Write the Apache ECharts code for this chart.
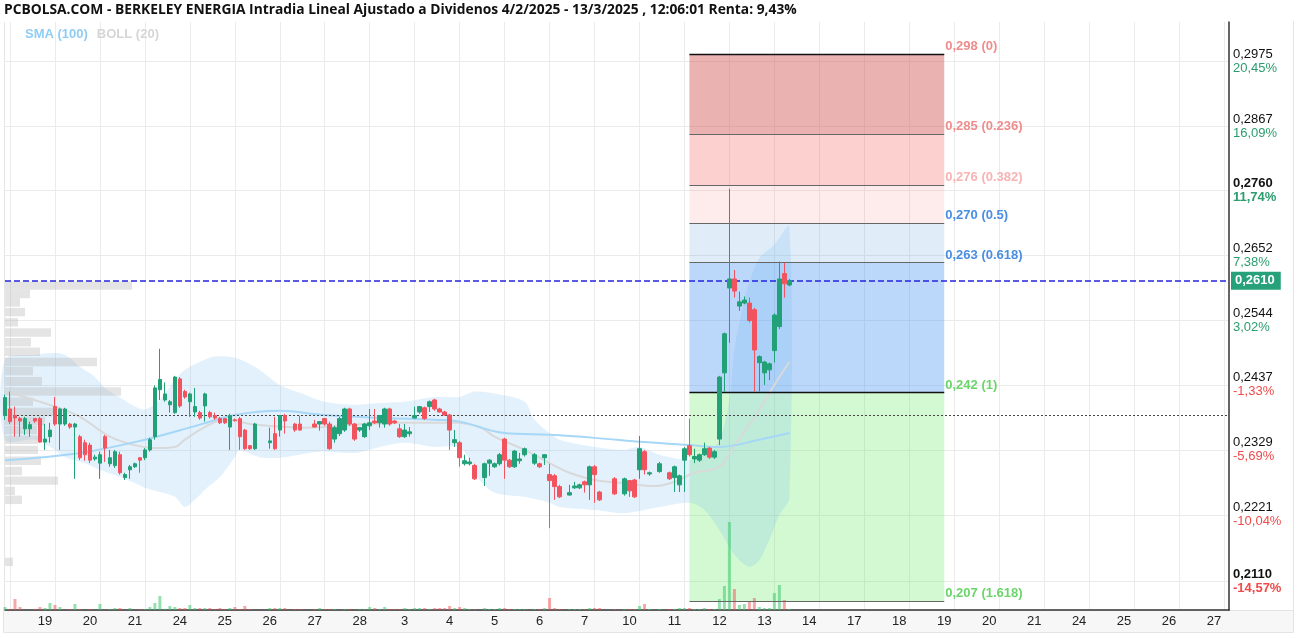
<!DOCTYPE html>
<html>
<head>
<meta charset="utf-8">
<title>Berkeley Energia intradía</title>
<script src="https://cdn.jsdelivr.net/npm/echarts@6/dist/echarts.min.js"></script>
<style>
  html, body { margin: 0; padding: 0; background: #fff; }
  #chart { width: 1298px; height: 638px; }
</style>
</head>
<body>
<div id="chart"></div>
<script>
// --- datos ---
const titleText = 'PCBOLSA.COM - BERKELEY ENERGIA Intradia Lineal Ajustado a Dividenos 4/2/2025 - 13/3/2025 , 12:06:01 Renta: 9,43%';
const dayLabels = ['18', '19', '20', '21', '24', '25', '26', '27', '28', '3', '4', '5', '6', '7', '10', '11', '12', '13',
  '14', '17', '18', '19', '20', '21', '24', '25', '26', '27'];
const barsPerDay = 9;
const totalSlots = 246;

const yTicks = [0.2975, 0.2867, 0.2760, 0.2652, 0.2544, 0.2437, 0.2329, 0.2221, 0.2110];
const yLabels = ['0,2975', '0,2867', '0,2760', '0,2652', '0,2544', '0,2437', '0,2329', '0,2221', '0,2110'];
const yPct = ['20,45%', '16,09%', '11,74%', '7,38%', '3,02%', '-1,33%', '-5,69%', '-10,04%', '-14,57%'];

const lastPrice = 0.2610;
const lastLabel = '0,2610';
const refLine = 0.2387;

// velas horarias [apertura, cierre, minimo, maximo], null = sin cotizacion
const ohlc = [
  [0.2386, 0.2416, 0.2379, 0.2421],
  // 18
  [0.2397, 0.2376, 0.2372, 0.2426], [0.2386, 0.2382, 0.2351, 0.2401], [0.2381, 0.2377, 0.2351, 0.2384],
  [0.2364, 0.2381, 0.2354, 0.2384], [0.2364, 0.2371, 0.2351, 0.2376], [0.2381, 0.2377, 0.2374, 0.2382],
  [0.2381, 0.2342, 0.2341, 0.2384], [0.2342, 0.2347, 0.2329, 0.2372], [0.2351, 0.2362, 0.2341, 0.2374],
  // 19
  [0.2401, 0.2372, 0.2369, 0.2417], [0.2372, 0.2397, 0.2329, 0.2399], [0.2372, 0.2397, 0.2369, 0.2399],
  [0.2372, 0.2367, 0.2364, 0.2374], [0.2367, 0.2372, 0.2281, 0.2374], [0.2351, 0.2316, 0.2312, 0.2354],
  [0.2341, 0.2321, 0.2311, 0.2346], [0.2337, 0.2312, 0.2307, 0.2341], [0.2314, 0.2317, 0.2311, 0.2321],
  // 20
  [0.2307, 0.2321, 0.2281, 0.2326], [0.2351, 0.2332, 0.2309, 0.2354], [0.2306, 0.2316, 0.2301, 0.2329],
  [0.2303, 0.2326, 0.2299, 0.2329], [0.2321, 0.2291, 0.2288, 0.2326], [0.2283, 0.2288, 0.2279, 0.2291],
  [0.2296, 0.2301, 0.2281, 0.2304], [0.2301, 0.2306, 0.2299, 0.2308], [0.2316, 0.2312, 0.2291, 0.2317],
  // 21
  [0.2316, 0.2329, 0.2312, 0.2332], [0.2329, 0.2346, 0.2326, 0.2349], [0.2351, 0.2432, 0.2346, 0.2436],
  [0.2429, 0.2446, 0.2412, 0.2497], [0.2412, 0.2422, 0.2409, 0.2441], [0.2404, 0.2409, 0.2391, 0.2412],
  [0.2391, 0.2450, 0.2389, 0.2452], [0.2447, 0.2402, 0.2399, 0.2450], [0.2426, 0.2417, 0.2414, 0.2429],
  // 24
  [0.2409, 0.2422, 0.2384, 0.2424], [0.2392, 0.2401, 0.2384, 0.2432], [0.2391, 0.2382, 0.2379, 0.2394],
  [0.2402, 0.2422, 0.2376, 0.2424], [0.2391, 0.2384, 0.2381, 0.2394], [0.2386, 0.2382, 0.2379, 0.2391],
  [0.2381, 0.2374, 0.2372, 0.2384], [0.2381, 0.2374, 0.2372, 0.2382], [0.2367, 0.2386, 0.2329, 0.2389],
  // 25
  [0.2379, 0.2378, 0.2376, 0.2381], [0.2381, 0.2351, 0.2329, 0.2384], [0.2362, 0.2331, 0.2329, 0.2364],
  [0.2336, 0.2331, 0.2329, 0.2337], [0.2331, 0.2372, 0.2329, 0.2374], null,
  null, [0.2341, 0.2344, 0.2331, 0.2366], [0.2356, 0.2331, 0.2329, 0.2384],
  // 26
  [0.2362, 0.2386, 0.2351, 0.2387], [0.2386, 0.2377, 0.2356, 0.2389], null,
  [0.2372, 0.2362, 0.2359, 0.2374], [0.2372, 0.2362, 0.2361, 0.2386], null,
  null, [0.2372, 0.2367, 0.2366, 0.2379], [0.2372, 0.2376, 0.2361, 0.2377],
  // 27
  [0.2381, 0.2372, 0.2369, 0.2382], [0.2372, 0.2331, 0.2329, 0.2376], [0.2347, 0.2366, 0.2341, 0.2369],
  [0.2356, 0.2381, 0.2352, 0.2384], [0.2362, 0.2397, 0.2359, 0.2399], [0.2397, 0.2372, 0.2369, 0.2399],
  [0.2372, 0.2347, 0.2344, 0.2374], [0.2362, 0.2366, 0.2359, 0.2367], [0.2351, 0.2372, 0.2349, 0.2374],
  // 28
  [0.2369, 0.2374, 0.2362, 0.2397], [0.2377, 0.2374, 0.2372, 0.2397], [0.2374, 0.2386, 0.2366, 0.2387],
  [0.2372, 0.2397, 0.2366, 0.2399], [0.2397, 0.2372, 0.2369, 0.2399], [0.2377, 0.2374, 0.2372, 0.2379],
  [0.2364, 0.2351, 0.2349, 0.2372], [0.2351, 0.2362, 0.2349, 0.2372], [0.2356, 0.2359, 0.2351, 0.2367],
  // 3
  [0.2382, 0.2386, 0.2381, 0.2401], [0.2392, 0.2401, 0.2389, 0.2402], [0.2399, 0.2381, 0.2379, 0.2401],
  [0.2401, 0.2409, 0.2392, 0.2411], [0.2412, 0.2397, 0.2394, 0.2414], [0.2397, 0.2392, 0.2391, 0.2399],
  [0.2392, 0.2387, 0.2386, 0.2394], [0.2387, 0.2362, 0.2329, 0.2389], [0.2341, 0.2346, 0.2334, 0.2362],
  // 4
  [0.2341, 0.2316, 0.2301, 0.2344], [0.2306, 0.2311, 0.2303, 0.2321], [0.2306, 0.2309, 0.2303, 0.2316],
  [0.2303, 0.2281, 0.2279, 0.2306], null, [0.2283, 0.2306, 0.2269, 0.2308],
  [0.2307, 0.2312, 0.2286, 0.2314], [0.2301, 0.2306, 0.2299, 0.2308], [0.2306, 0.2321, 0.2303, 0.2324],
  // 5
  [0.2347, 0.2312, 0.2281, 0.2349], [0.2312, 0.2301, 0.2299, 0.2314], [0.2301, 0.2327, 0.2299, 0.2329],
  [0.2311, 0.2314, 0.2306, 0.2324], [0.2321, 0.2331, 0.2318, 0.2333], null,
  [0.2307, 0.2321, 0.2304, 0.2324], [0.2306, 0.2301, 0.2299, 0.2308], [0.2316, 0.2321, 0.2304, 0.2322],
  // 6
  [0.2288, 0.2278, 0.2199, 0.2306], [0.2286, 0.2268, 0.2246, 0.2289], [0.2268, 0.2251, 0.2249, 0.2271],
  null, [0.2254, 0.2258, 0.2253, 0.2271], [0.2266, 0.2269, 0.2264, 0.2276],
  [0.2266, 0.2271, 0.2264, 0.2273], [0.2276, 0.2271, 0.2258, 0.2278], [0.2271, 0.2301, 0.2246, 0.2303],
  // 7
  [0.2301, 0.2288, 0.2241, 0.2304], [0.2259, 0.2246, 0.2244, 0.2261], null,
  null, [0.2281, 0.2256, 0.2254, 0.2284], null,
  [0.2256, 0.2281, 0.2253, 0.2283], [0.2278, 0.2261, 0.2251, 0.2279], [0.2279, 0.2251, 0.2249, 0.2281],
  // 10
  [0.2296, 0.2331, 0.2281, 0.2352], [0.2326, 0.2296, 0.2288, 0.2329], [0.2289, 0.2291, 0.2286, 0.2293],
  null, [0.2293, 0.2306, 0.2291, 0.2309], null,
  [0.2291, 0.2281, 0.2279, 0.2293], [0.2283, 0.2301, 0.2259, 0.2303], [0.2271, 0.2286, 0.2259, 0.2288],
  // 11
  [0.2312, 0.2331, 0.2259, 0.2334], [0.2336, 0.2321, 0.2318, 0.2381], [0.2314, 0.2318, 0.2307, 0.2331],
  [0.2312, 0.2321, 0.2309, 0.2323], [0.2321, 0.2331, 0.2319, 0.2341], [0.2332, 0.2317, 0.2314, 0.2334],
  [0.2317, 0.2326, 0.2314, 0.2329], [0.2347, 0.2450, 0.2337, 0.2452], [0.2457, 0.2522, 0.2426, 0.2524],
  // 12
  [0.2598, 0.2613, 0.2507, 0.2763], [0.2613, 0.2593, 0.2582, 0.2628], [0.2568, 0.2575, 0.2560, 0.2592],
  [0.2573, 0.2578, 0.2571, 0.2584], [0.2573, 0.2544, 0.2541, 0.2582], [0.2562, 0.2495, 0.2426, 0.2565],
  [0.2474, 0.2484, 0.2426, 0.2486], [0.2457, 0.2475, 0.2437, 0.2477], [0.2462, 0.2472, 0.2445, 0.2474],
  // 13
  [0.2494, 0.2553, 0.2474, 0.2556], [0.2534, 0.2613, 0.2530, 0.2642], [0.2622, 0.2605, 0.2582, 0.2640],
  [0.2603, 0.2610, 0.2601, 0.2613]
];

const volumes = [
  3, 1, 11, 3, 0, 0, 1, 3, 2, 7,
  5, 3, 0, 1, 6, 1, 0, 1, 0,
  6, 0, 1, 2, 2, 0, 2, 0, 1,
  1, 3, 7, 14, 1, 4, 3, 2, 2,
  5, 2, 2, 2, 2, 1, 2, 1, 2,
  3, 1, 4, 1, 0, 0, 0, 2, 2,
  2, 2, 0, 1, 1, 0, 0, 1, 2,
  1, 1, 1, 0, 1, 1, 0, 1, 1,
  3, 2, 1, 3, 1, 1, 1, 2, 1,
  2, 2, 2, 1, 2, 2, 2, 4, 2,
  3, 2, 1, 1, 0, 2, 1, 1, 2,
  2, 1, 1, 1, 1, 0, 1, 1, 2,
  12, 2, 1, 0, 1, 1, 1, 1, 2,
  2, 2, 0, 0, 1, 0, 1, 1, 1,
  4, 6, 1, 0, 1, 0, 1, 1, 2,
  2, 2, 1, 1, 2, 1, 1, 11, 24,
  88, 21, 5, 6, 8, 12, 3, 2, 2,
  17, 25, 10, 1
];

// bandas de Bollinger (20) y medias, [posicion, valor]
const bollUpper = [[0, 0.2479], [6, 0.2487], [10, 0.2490], [12, 0.2487], [15, 0.2467], [18, 0.2450], [20, 0.2432],
  [23, 0.2416], [26, 0.2401], [28, 0.2396], [31, 0.2412], [34, 0.2445], [36, 0.2462], [39, 0.2475], [42, 0.2484],
  [46, 0.2482], [50, 0.2467], [55, 0.2437], [59, 0.2424], [64, 0.2409], [70, 0.2404], [75, 0.2407], [80, 0.2409],
  [86, 0.2417], [91, 0.2417], [94, 0.2426], [99, 0.2421], [104, 0.2409], [106, 0.2379], [109, 0.2357],
  [111, 0.2346], [118, 0.2334], [124, 0.2329], [127, 0.2334], [131, 0.2321], [137, 0.2312], [140, 0.2321],
  [143, 0.2346], [145, 0.2412], [146, 0.2495], [148, 0.2578], [149, 0.2607], [151, 0.2648], [154, 0.2670],
  [157, 0.2700]];
const bollLower = [[0, 0.2346], [6, 0.2346], [10, 0.2329], [12, 0.2317], [16, 0.2307], [19, 0.2296], [23, 0.2284],
  [26, 0.2274], [28, 0.2266], [31, 0.2259], [34, 0.2251], [36, 0.2234], [38, 0.2246], [40, 0.2263], [43, 0.2284],
  [46, 0.2317], [47, 0.2329], [51, 0.2317], [55, 0.2316], [63, 0.2326], [70, 0.2324], [75, 0.2334], [80, 0.2341],
  [86, 0.2334], [91, 0.2334], [93, 0.2312], [95, 0.2279], [98, 0.2258], [104, 0.2251], [109, 0.2241],
  [111, 0.2234], [118, 0.2229], [124, 0.2224], [131, 0.2234], [137, 0.2241], [140, 0.2229], [143, 0.2196],
  [146, 0.2155], [149, 0.2135], [151, 0.2146], [153, 0.2180], [155, 0.2221], [157, 0.2249]];
const bollMid = [[0, 0.2426], [10, 0.2401], [15, 0.2384], [21, 0.2351], [26, 0.2337], [30, 0.2332], [34, 0.2334],
  [36, 0.2346], [40, 0.2367], [44, 0.2379], [50, 0.2371], [60, 0.2366], [70, 0.2371], [80, 0.2374], [90, 0.2374],
  [95, 0.2367], [98, 0.2351], [104, 0.2329], [109, 0.2307], [113, 0.2291], [118, 0.2279], [124, 0.2274],
  [130, 0.2269], [134, 0.2276], [138, 0.2291], [143, 0.2301], [146, 0.2337], [149, 0.2371], [151, 0.2396],
  [154, 0.2437], [157, 0.2475]];
const sma100 = [[0, 0.2312], [15, 0.2324], [28, 0.2346], [39, 0.2371], [46, 0.2387], [55, 0.2394], [64, 0.2387],
  [76, 0.2382], [86, 0.2379], [91, 0.2376], [100, 0.2357], [109, 0.2354], [118, 0.2349], [128, 0.2342],
  [137, 0.2337], [143, 0.2334], [151, 0.2346], [157, 0.2357]];

// perfil de volumen por precio
const profilePrices = [0.2602, 0.2588, 0.2574, 0.2558, 0.2541, 0.2524, 0.2508, 0.2492, 0.2475, 0.2460, 0.2443,
  0.2426, 0.2409, 0.2392, 0.2377, 0.2362, 0.2346, 0.2329, 0.2311, 0.2294, 0.2278, 0.2261, 0.2246, 0.2143];
const profileVolumes = [127, 25, 15, 20, 13, 46, 26, 35, 92, 28, 37, 116, 28, 50, 40, 32, 33, 33, 36, 17, 53, 10, 17, 8];

// retroceso de Fibonacci (niveles, textos tal como aparecen)
const fibLevels = [0.2987, 0.2854, 0.2769, 0.2706, 0.2640, 0.2424, 0.2078];
const fibLabels = ['0,298 (0)', '0,285 (0.236)', '0,276 (0.382)', '0,270 (0.5)', '0,263 (0.618)', '0,242 (1)', '0,207 (1.618)'];
const fibStart = 137;
const fibEnd = 188;

// --- estilos ---
const upColor = '#22a077';
const downColor = '#f2545f';
const fibFills = ['rgba(210,80,80,0.44)', 'rgba(250,100,100,0.3)', 'rgba(250,100,100,0.13)',
  'rgba(60,140,220,0.16)', 'rgba(60,140,240,0.35)', 'rgba(80,230,80,0.25)'];
const fibTextColors = ['#ef8d8d', '#ef8d8d', '#f8b3b3', '#4a8ee4', '#4a8ee4', '#6bd56b', '#6bd56b'];

const categories = [];
for (let i = 0; i < totalSlots; i++) categories.push(String(i));

const candleData = ohlc.map(c => c ? c : ['-', '-', '-', '-']);
const volumeData = volumes.map((v, i) => {
  const c = ohlc[i];
  const up = !c || c[1] >= c[0];
  return { value: v, itemStyle: { color: up ? 'rgba(60,200,110,0.55)' : 'rgba(240,80,80,0.5)' } };
});

const fibAreas = [];
for (let i = 0; i < fibLevels.length - 1; i++) {
  fibAreas.push([
    { coord: [fibStart, fibLevels[i]], itemStyle: { color: fibFills[i] } },
    { coord: [fibEnd, fibLevels[i + 1]] }
  ]);
}
const fibLines = fibLevels.map((lvl, i) => {
  const strong = i === 0 || i === 5;
  return [
    {
      coord: [fibStart, lvl],
      lineStyle: { color: strong ? '#111' : '#666', width: strong ? 1.4 : 1, type: 'solid' },
      label: {
        show: true, position: 'end', distance: 1,
        formatter: '{t|' + fibLabels[i] + '}\n{s| }',
        rich: {
          t: { color: fibTextColors[i], fontWeight: 'bold', fontSize: 13, lineHeight: 15, fontFamily: 'Liberation Sans' },
          s: { fontSize: 1, lineHeight: 15 }
        }
      }
    },
    { coord: [fibEnd, lvl] }
  ];
});

// linea del ultimo precio y linea de referencia, de borde a borde
const priceLines = [
  [
    {
      coord: [0, lastPrice],
      lineStyle: { color: '#2424e0', type: [6, 3], width: 1.5 },
      label: {
        show: true, position: 'end', distance: 2, formatter: lastLabel,
        backgroundColor: '#27a17a', color: '#fff', fontWeight: 'bold', fontSize: 13,
        fontFamily: 'Liberation Sans', padding: [3, 6, 2, 4]
      }
    },
    { coord: [totalSlots - 1, lastPrice] }
  ],
  [
    { coord: [0, refLine], lineStyle: { color: '#444', type: [2, 2], width: 1 }, label: { show: false } },
    { coord: [totalSlots - 1, refLine] }
  ]
];

const chart = echarts.init(document.getElementById('chart'));

chart.setOption({
  animation: false,
  backgroundColor: '#fff',
  title: {
    text: titleText, left: 4, top: 3, padding: 0,
    textStyle: { fontSize: 13.8, fontWeight: 'bold', color: '#111', fontFamily: 'Open Sans' }
  },
  legend: {
    left: 20, top: 27, padding: 0, itemWidth: 0, itemGap: 4, icon: 'none', selectedMode: false,
    textStyle: { fontSize: 13, fontWeight: 'bold', fontFamily: 'Liberation Sans' },
    data: [
      { name: 'SMA (100)', textStyle: { color: '#8fcdf4' } },
      { name: 'BOLL (20)', textStyle: { color: '#d6d6d6' } }
    ]
  },
  graphic: [
    { type: 'rect', z: -10, shape: { x: 3.5, y: 610.5, width: 1290, height: 22 }, style: { fill: '#f7f7f7', stroke: '#e4e4e4' } },
    { type: 'line', z: -10, shape: { x1: 4.5, y1: 22, x2: 4.5, y2: 611 }, style: { stroke: '#e6e6e6' } },
    { type: 'line', z: -10, shape: { x1: 1293.5, y1: 21, x2: 1293.5, y2: 611 }, style: { stroke: '#e4e4e4' } }
  ],
  grid: [
    { left: 5, right: 69, top: 22, bottom: 28, show: false, containLabel: false, outerBoundsMode: 'none' },
    { left: 5, right: 69, top: 510, bottom: 28, show: false, containLabel: false, outerBoundsMode: 'none' }
  ],
  xAxis: [
    {
      type: 'category', gridIndex: 0, data: categories, boundaryGap: false,
      axisLine: { show: true, onZero: false, lineStyle: { color: '#333', width: 1.5 } },
      axisTick: { show: false },
      axisLabel: {
        interval: (i) => i > 0 && (i + 1) % barsPerDay === 0,
        formatter: (v, i) => dayLabels[(i + 1) / barsPerDay] || '',
        color: '#222', fontSize: 13, margin: 5, fontFamily: 'Liberation Sans'
      },
      splitLine: { show: true, interval: (i) => i % barsPerDay === 1, lineStyle: { color: '#ebebeb' } }
    },
    { type: 'value', gridIndex: 0, min: 0, max: 1224, show: false },
    { type: 'category', gridIndex: 1, data: categories, boundaryGap: false, show: false }
  ],
  yAxis: [
    {
      type: 'value', gridIndex: 0, position: 'right', min: 0.2063, max: 0.3040,
      axisLine: { show: true, onZero: false, lineStyle: { color: '#333', width: 1.5 } },
      axisTick: { show: false, customValues: yTicks },
      splitLine: { show: true, lineStyle: { color: '#ebebeb' } },
      axisLabel: {
        customValues: yTicks, margin: 4,
        formatter: function (value) {
          const i = yTicks.indexOf(value);
          if (i < 0) return '';
          const bold = i === 2 || i === yTicks.length - 1;
          const neg = yPct[i].charAt(0) === '-';
          const pk = bold ? 'pb' : 'p';
          const ck = (neg ? 'r' : 'g') + (bold ? 'b' : '');
          return '{' + pk + '|' + yLabels[i] + '}\n{' + ck + '|' + yPct[i] + '}';
        },
        rich: {
          p: { color: '#111', fontSize: 13, lineHeight: 14, fontFamily: 'Liberation Sans' },
          pb: { color: '#111', fontSize: 13, lineHeight: 14, fontWeight: 'bold', fontFamily: 'Liberation Sans' },
          g: { color: '#2b9d6d', fontSize: 13, lineHeight: 14, fontFamily: 'Liberation Sans' },
          gb: { color: '#2b9d6d', fontSize: 13, lineHeight: 14, fontWeight: 'bold', fontFamily: 'Liberation Sans' },
          r: { color: '#f04a4a', fontSize: 13, lineHeight: 14, fontFamily: 'Liberation Sans' },
          rb: { color: '#f04a4a', fontSize: 13, lineHeight: 14, fontWeight: 'bold', fontFamily: 'Liberation Sans' }
        }
      }
    },
    { type: 'value', gridIndex: 1, min: 0, max: 100, show: false }
  ],
  series: [
    {
      // zonas de Fibonacci
      type: 'line', name: 'fib', xAxisIndex: 0, yAxisIndex: 0, data: [], z: 1, silent: true,
      markArea: { silent: true, data: fibAreas },
      markLine: { silent: true, symbol: ['none', 'none'], data: fibLines }
    },
    {
      type: 'custom', name: 'BOLL (20)', xAxisIndex: 0, yAxisIndex: 0, z: 2, silent: true,
      data: [0],
      renderItem: function (params, api) {
        const pts = bollUpper.map(p => api.coord(p))
          .concat(bollLower.slice().reverse().map(p => api.coord(p)));
        return {
          type: 'polygon',
          shape: { points: pts, smooth: 0.3 },
          style: { fill: 'rgba(110,185,240,0.2)', stroke: 'none' }
        };
      }
    },
    {
      type: 'custom', name: 'perfil', xAxisIndex: 1, yAxisIndex: 0, z: 3, silent: true,
      data: profilePrices.map((p, i) => [profileVolumes[i], p]),
      renderItem: function (params, api) {
        const v = api.value(0);
        const p = api.value(1);
        const a = api.coord([0, p + 0.0007]);
        const b = api.coord([v, p - 0.0007]);
        return {
          type: 'rect',
          shape: { x: a[0], y: a[1], width: b[0] - a[0], height: b[1] - a[1] },
          style: { fill: 'rgba(185,185,185,0.38)' }
        };
      }
    },
    {
      type: 'line', name: 'BOLL (20)', xAxisIndex: 0, yAxisIndex: 0, z: 3, data: bollMid,
      smooth: 0.4, showSymbol: false, silent: true, lineStyle: { color: '#d9d9d9', width: 2 }
    },
    {
      type: 'line', name: 'SMA (100)', xAxisIndex: 0, yAxisIndex: 0, z: 3, data: sma100,
      smooth: 0.4, showSymbol: false, silent: true, lineStyle: { color: '#a6d7f7', width: 2 }
    },
    {
      type: 'bar', name: 'volumen', xAxisIndex: 2, yAxisIndex: 1, barWidth: 3, z: 2, silent: true,
      data: volumeData
    },
    {
      type: 'candlestick', name: 'BKY', xAxisIndex: 0, yAxisIndex: 0, z: 5, barWidth: 4,
      data: candleData,
      itemStyle: { color: upColor, color0: downColor, borderColor: upColor, borderColor0: downColor, borderWidth: 1 }
    },
    {
      type: 'line', name: 'precio', xAxisIndex: 0, yAxisIndex: 0, data: [], z: 6, silent: true,
      markLine: { silent: true, symbol: ['none', 'none'], data: priceLines }
    }
  ]
});

window.addEventListener('resize', () => chart.resize());
</script>
</body>
</html>
